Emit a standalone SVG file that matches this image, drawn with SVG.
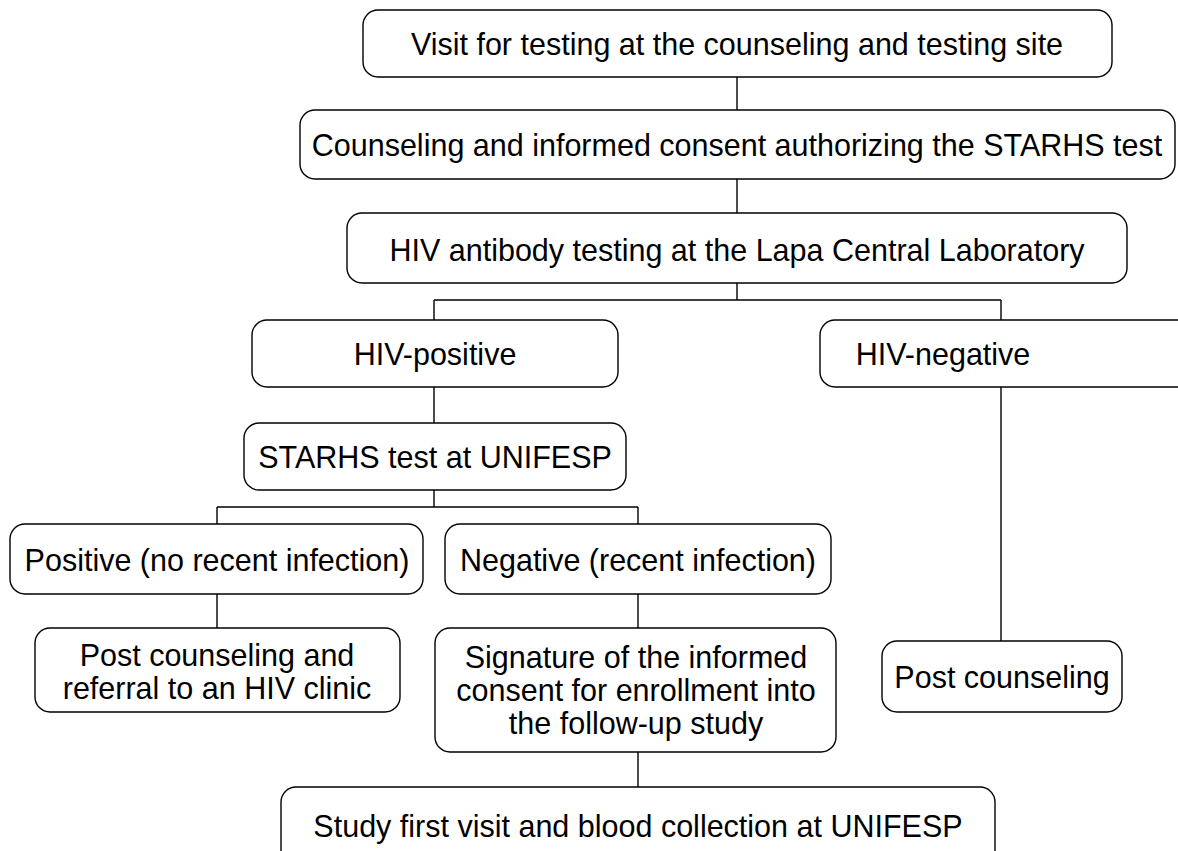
<svg xmlns="http://www.w3.org/2000/svg" width="1178" height="851" viewBox="0 0 1178 851">
<style>
.box{fill:#fff;stroke:#000;stroke-width:1.4}
.t{font-family:"Liberation Sans",Arial,sans-serif;font-size:30.5px;fill:#000;text-anchor:middle;dominant-baseline:central}
.c{fill:none;stroke:#000;stroke-width:1.4}
</style>
<rect width="1178" height="851" fill="#fff"/>
<g id="connectors">
<path class="c" d="M737,77V110M737,179V213M737,283V300M434,300H1001M434,300V320M1001,300V320"/>
<path class="c" d="M434,387V423M434,490V507M217,507H638M217,507V524M638,507V524"/>
<path class="c" d="M217,594V628M638,594V628M638,752V787M1001,387V641"/>
</g>
<g id="n1"><rect class="box" x="363" y="10" width="749" height="67" rx="15"/><text class="t" x="737" y="44">Visit for testing at the counseling and testing site</text></g>
<g id="n2"><rect class="box" x="300" y="110" width="875" height="69" rx="15"/><text class="t" x="737" y="145">Counseling and informed consent authorizing the STARHS test</text></g>
<g id="n3"><rect class="box" x="347" y="213" width="780" height="70" rx="15"/><text class="t" x="737" y="250">HIV antibody testing at the Lapa Central Laboratory</text></g>
<g id="n4"><rect class="box" x="252" y="320" width="366" height="67" rx="15"/><text class="t" x="435" y="354">HIV-positive</text></g>
<g id="n5"><rect class="box" x="820" y="320" width="380" height="67" rx="15"/><text class="t" x="943" y="354">HIV-negative</text></g>
<g id="n6"><rect class="box" x="244" y="423" width="382" height="67" rx="15"/><text class="t" x="435" y="457">STARHS test at UNIFESP</text></g>
<g id="n7"><rect class="box" x="10" y="524" width="413" height="70" rx="15"/><text class="t" x="217" y="560">Positive (no recent infection)</text></g>
<g id="n8"><rect class="box" x="445" y="524" width="386" height="70" rx="15"/><text class="t" x="638" y="560">Negative (recent infection)</text></g>
<g id="n9"><rect class="box" x="35" y="628" width="365" height="84" rx="15"/><text class="t" x="217" y="655">Post counseling and</text><text class="t" x="217" y="688">referral to an HIV clinic</text></g>
<g id="n10"><rect class="box" x="435" y="628" width="401" height="124" rx="15"/><text class="t" x="636" y="657">Signature of the informed</text><text class="t" x="636" y="690">consent for enrollment into</text><text class="t" x="636" y="723">the follow-up study</text></g>
<g id="n11"><rect class="box" x="882" y="641" width="240" height="71" rx="15"/><text class="t" x="1002" y="677">Post counseling</text></g>
<g id="n12"><rect class="box" x="281" y="787" width="714" height="90" rx="15"/><text class="t" x="638" y="826">Study first visit and blood collection at UNIFESP</text></g>
</svg>
